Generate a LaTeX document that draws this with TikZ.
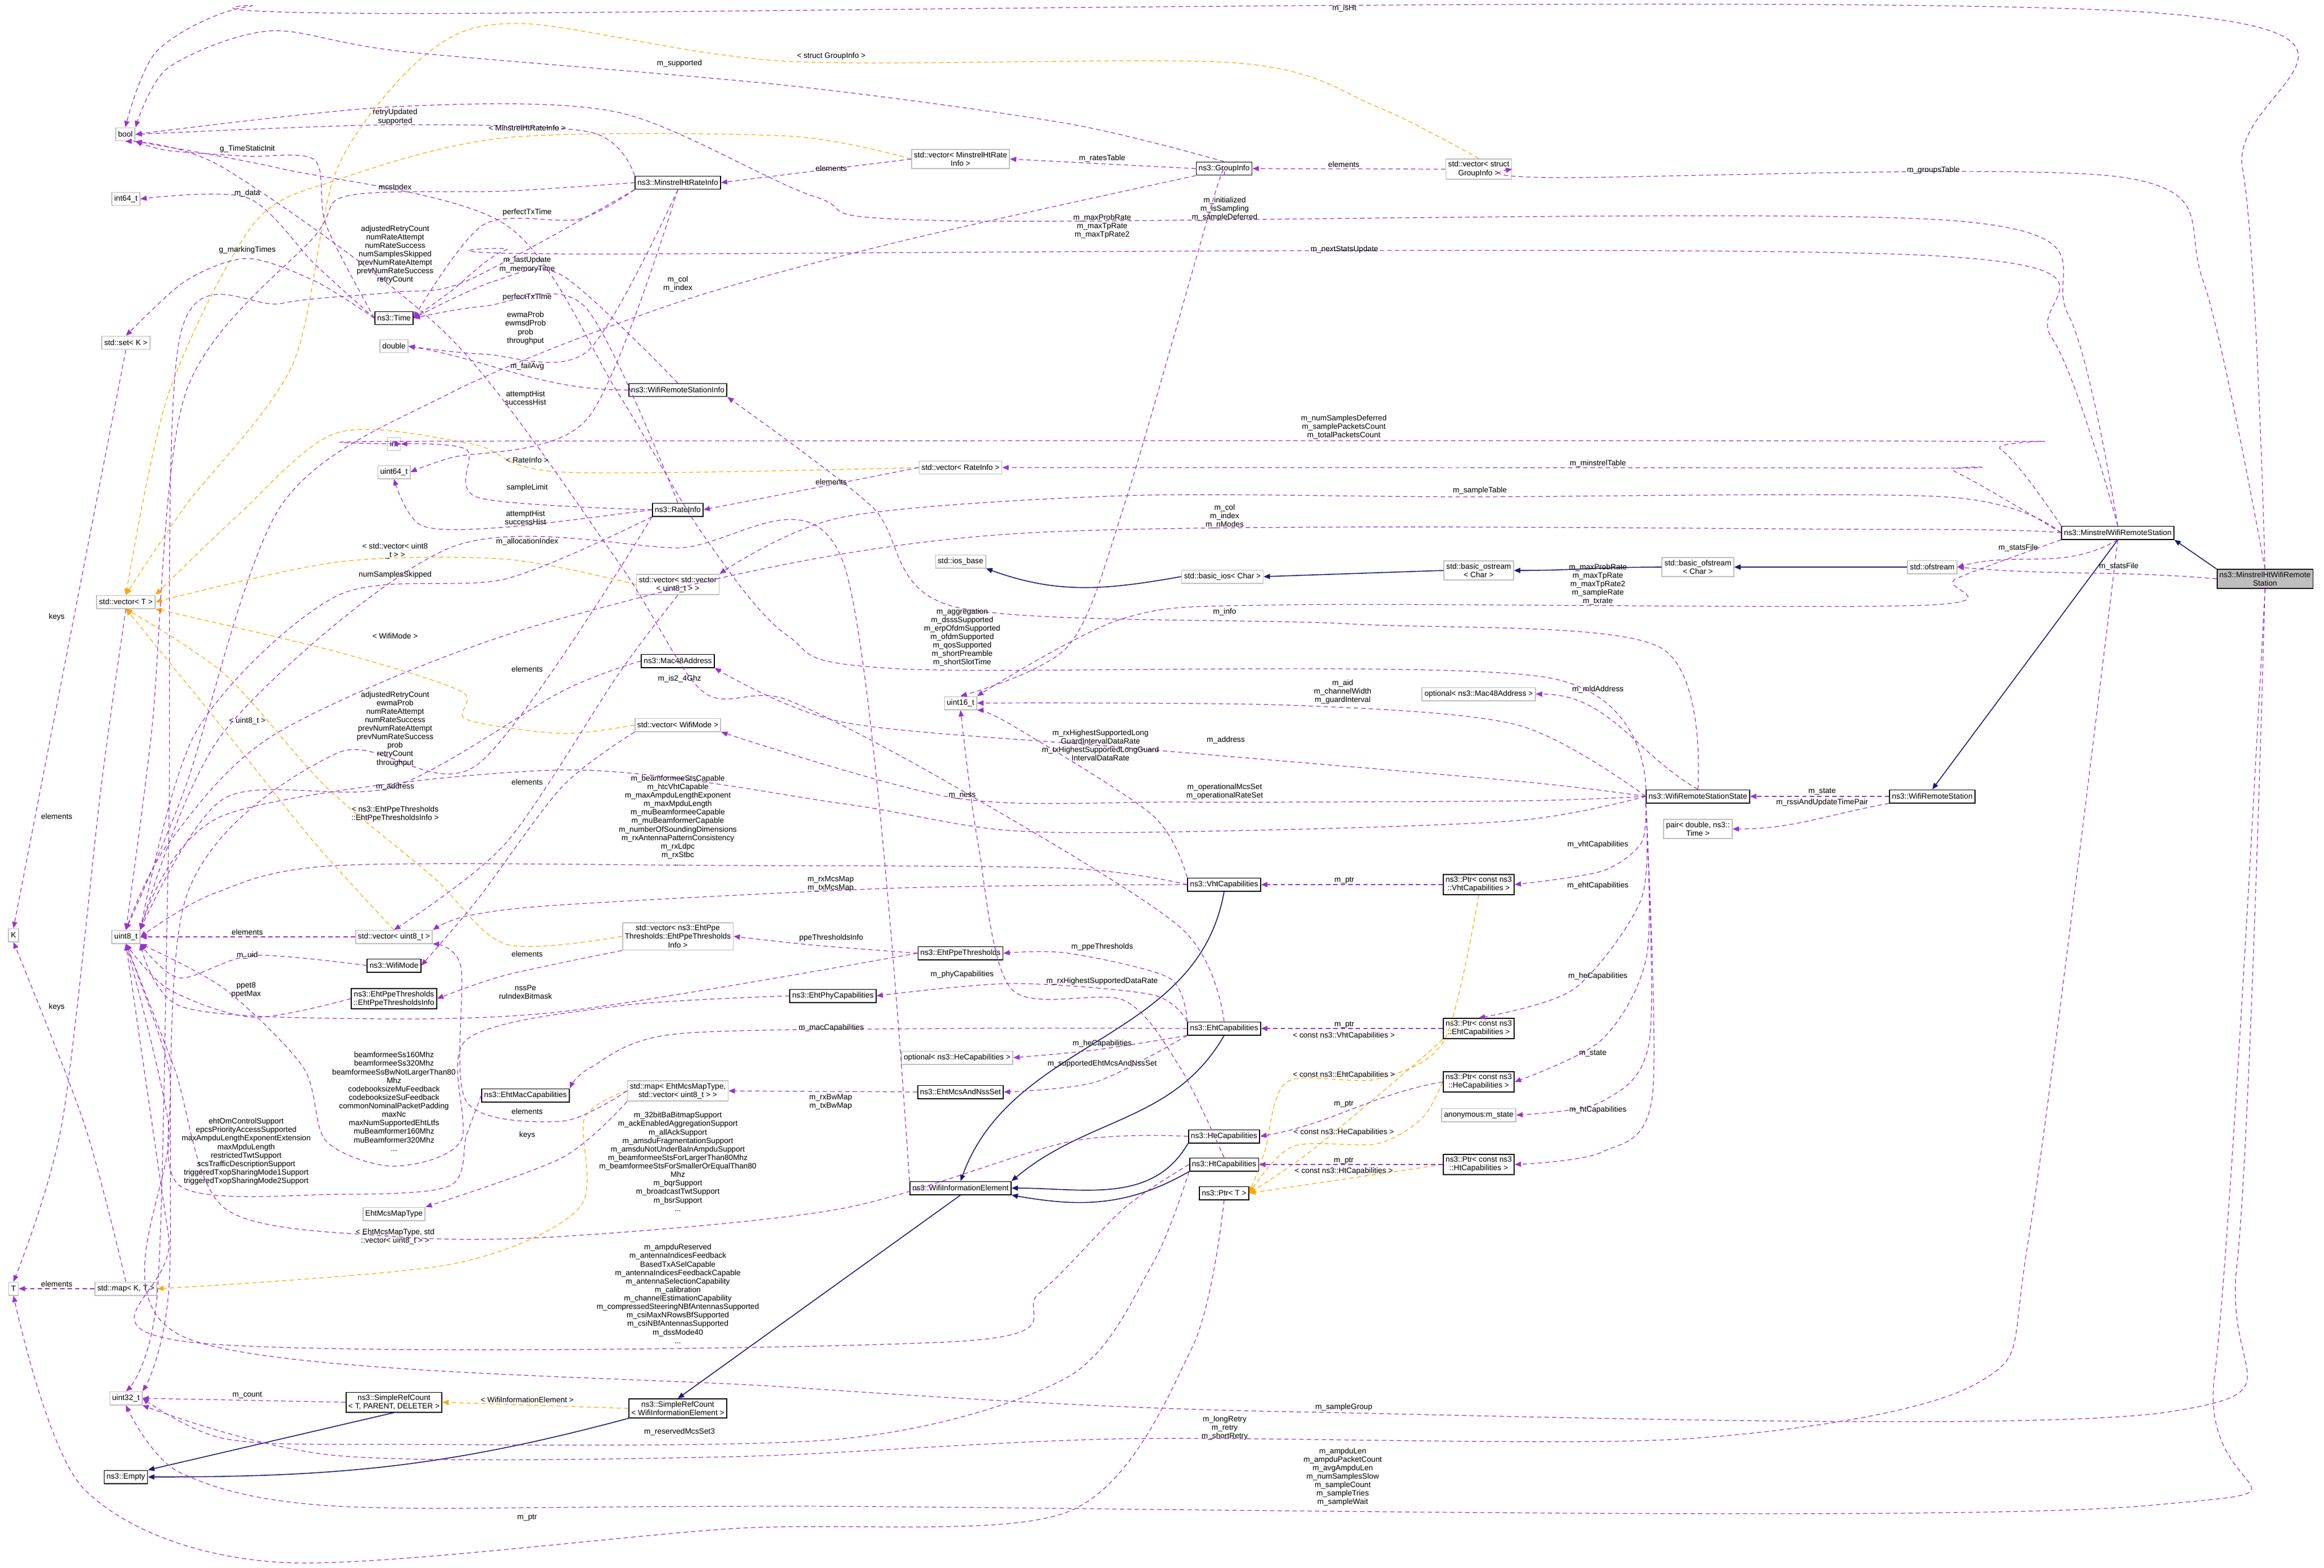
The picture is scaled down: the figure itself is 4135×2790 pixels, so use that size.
\documentclass[tikz,border=0pt]{standalone}
\usepackage{fontspec}
\setmainfont{Liberation Sans}
\usetikzlibrary{arrows.meta,positioning,calc}
\definecolor{usecol}{HTML}{9A32CD}
\definecolor{tplcol}{HTML}{FFA500}
\definecolor{inhcol}{HTML}{191970}
\definecolor{extcol}{HTML}{BFBFBF}

\begin{document}
\begin{tikzpicture}[x=0.01cm,y=-0.01cm,
    font=\fontsize{3.9}{4.3}\selectfont,
    cls/.style={draw=black, line width=0.5pt, fill=white, inner sep=1.2pt, minimum height=6.6pt, align=center},
    ext/.style={draw=extcol, line width=0.5pt, fill=white, inner sep=1.2pt, minimum height=6.6pt, align=center},
    root/.style={cls, fill=extcol},
    lbl/.style={inner sep=0.3pt, align=center},
    use/.style={draw=usecol, line width=0.35pt, dash pattern=on 2.2pt off 1.6pt, -{Triangle[length=3.2pt,width=2.6pt]}},
    tpl/.style={use, draw=tplcol},
    inh/.style={draw=inhcol, line width=0.45pt, -{Triangle[length=3.2pt,width=2.6pt]}}]
    \useasboundingbox (0,0) rectangle (4135,2790);

    % left column
    \node[ext] (bool) at (223,239) {bool};
    \node[ext] (int64) at (224,354) {int64\_t};
    \node[ext] (setK) at (224,610) {std::set< K >};
    \node[ext] (vecT) at (224,1071) {std::vector< T >};
    \node[ext] (K) at (24,1664) {K};
    \node[ext] (uint8) at (224,1667) {uint8\_t};
    \node[ext] (T) at (24,2293) {T};
    \node[ext] (mapKT) at (224,2293) {std::map< K, T >};
    \node[ext] (uint32) at (224,2488) {uint32\_t};
    \node[cls] (empty) at (224,2628) {ns3::Empty};

    % second column
    \node[cls] (time) at (701,566) {ns3::Time};
    \node[ext] (double) at (701,616) {double};
    \node[ext] (int) at (701,790) {int};
    \node[ext] (uint64) at (701,840) {uint64\_t};
    \node[ext] (vecu8) at (701,1667) {std::vector< uint8\_t >};
    \node[cls] (wifimode) at (701,1718) {ns3::WifiMode};
    \node[cls] (ppeinfo) at (701,1777) {ns3::EhtPpeThresholds\\::EhtPpeThresholdsInfo};
    \node[ext] (mcstype) at (701,2160) {EhtMcsMapType};
    \node[cls] (srcT) at (701,2495) {ns3::SimpleRefCount\\< T, PARENT, DELETER >};

    % third column
    \node[cls] (mhtrate) at (1206,325) {ns3::MinstrelHtRateInfo};
    \node[cls] (wrsinfo) at (1206,694) {ns3::WifiRemoteStationInfo};
    \node[cls] (rateinfo) at (1206,907) {ns3::RateInfo};
    \node[ext] (vecvec) at (1206,1040) {std::vector< std::vector\\< uint8\_t > >};
    \node[cls] (mac48) at (1206,1176) {ns3::Mac48Address};
    \node[ext] (vecmode) at (1206,1290) {std::vector< WifiMode >};
    \node[ext] (vecppe) at (1206,1666) {std::vector< ns3::EhtPpe\\Thresholds::EhtPpeThresholds\\Info >};
    \node[cls] (ehtmac) at (935,1949) {ns3::EhtMacCapabilities};
    \node[ext] (mapmcs) at (1206,1941) {std::map< EhtMcsMapType,\\std::vector< uint8\_t > >};
    \node[cls] (srcwie) at (1206,2506) {ns3::SimpleRefCount\\< WifiInformationElement >};

    % fourth column
    \node[ext] (vecmht) at (1709,283) {std::vector< MinstrelHtRate\\Info >};
    \node[ext] (vecrate) at (1709,832) {std::vector< RateInfo >};
    \node[ext] (iosbase) at (1709,999) {std::ios\_base};
    \node[ext] (uint16) at (1709,1251) {uint16\_t};
    \node[cls] (ehtppe) at (1709,1696) {ns3::EhtPpeThresholds};
    \node[cls] (ehtphy) at (1482,1772) {ns3::EhtPhyCapabilities};
    \node[ext] (opthe) at (1703,1882) {optional< ns3::HeCapabilities >};
    \node[cls] (ehtmcs) at (1709,1943) {ns3::EhtMcsAndNssSet};
    \node[cls] (wie) at (1709,2114) {ns3::WifiInformationElement};

    % fifth column
    \node[cls] (groupinfo) at (2178,300) {ns3::GroupInfo};
    \node[ext] (basicios) at (2175,1026) {std::basic\_ios< Char >};
    \node[cls] (vht) at (2178,1574) {ns3::VhtCapabilities};
    \node[cls] (eht) at (2178,1830) {ns3::EhtCapabilities};
    \node[cls] (he) at (2178,2022) {ns3::HeCapabilities};
    \node[cls] (ht) at (2178,2072) {ns3::HtCapabilities};
    \node[cls] (ptrT) at (2178,2123) {ns3::Ptr< T >};

    % sixth column
    \node[ext] (vecgroup) at (2631,301) {std::vector< struct\\GroupInfo >};
    \node[ext] (ostream) at (2631,1015) {std::basic\_ostream\\< Char >};
    \node[ext] (optmac) at (2631,1235) {optional< ns3::Mac48Address >};
    \node[cls] (ptrvht) at (2631,1574) {ns3::Ptr< const ns3\\::VhtCapabilities >};
    \node[cls] (ptreht) at (2631,1830) {ns3::Ptr< const ns3\\::EhtCapabilities >};
    \node[cls] (ptrhe) at (2631,1925) {ns3::Ptr< const ns3\\::HeCapabilities >};
    \node[ext] (anonstate) at (2631,1984) {anonymous:m\_state};
    \node[cls] (ptrht) at (2631,2072) {ns3::Ptr< const ns3\\::HtCapabilities >};

    % right part
    \node[ext] (bofstream) at (3021,1009) {std::basic\_ofstream\\< Char >};
    \node[cls] (wrss) at (3021,1417) {ns3::WifiRemoteStationState};
    \node[ext] (pair) at (3021,1475) {pair< double, ns3::\\Time >};
    \node[ext] (ofs) at (3438,1009) {std::ofstream};
    \node[cls] (wrs) at (3438,1417) {ns3::WifiRemoteStation};
    \node[cls] (mws) at (3768,948) {ns3::MinstrelWifiRemoteStation};
    \node[root] (mht) at (4030,1030) {ns3::MinstrelHtWifiRemote\\Station};

    % inheritance
    \draw[inh] (mht.north west) -- (mws.south east);
    \draw[inh] (mws.south) -- (wrs.north);
    \draw[inh] (ofs) -- (bofstream);
    \draw[inh] (bofstream.west) to[out=180,in=0] (ostream.east);
    \draw[inh] (ostream.west) -- (basicios.east);
    \draw[inh] (basicios.west) to[out=190,in=-20] (iosbase.south east);
    \draw[inh] (vht.south) to[out=-100,in=70] (wie.north);
    \draw[inh] (eht.south) to[out=-120,in=40] (wie.north east);
    \draw[inh] (he.south west) to[out=-120,in=0] (wie.east);
    \draw[inh] (ht.south west) to[out=-150,in=-10] (wie.south east);
    \draw[inh] (wie.south) -- (srcwie.north);
    \draw[inh] (srcwie.south west) to[out=-165,in=0] (empty.east);
    \draw[inh] (srcT.south) -- (empty.north east);

    % template instances
    \draw[tpl] plot[smooth,tension=0.5] coordinates {(vecgroup.north) (2450,190) (2200,112) (1400,109) (930,42) (760,95) (600,300) (520,650) (330,900) (vecT.north)};
    \draw[tpl] plot[smooth,tension=0.5] coordinates {(vecmht.west) (1400,242) (900,245) (600,320) (450,400) (300,700) (vecT.north)};
    \draw[tpl] plot[smooth,tension=0.5] coordinates {(vecrate.west) (1000,840) (840,790) (600,770) (420,920) (vecT.north east)};
    \draw[tpl] plot[smooth,tension=0.5] coordinates {(vecvec.west) (900,995) (600,1000) (vecT.east)};
    \draw[tpl] plot[smooth,tension=0.5] coordinates {(vecmode.west) (1000,1305) (830,1280) (820,1230) (600,1160) (vecT.south east)};
    \draw[tpl] plot[smooth,tension=0.5] coordinates {(vecu8.north) (560,1500) (400,1300) (vecT.south)};
    \draw[tpl] plot[smooth,tension=0.5] coordinates {(vecppe.west) (900,1680) (770,1560) (580,1400) (400,1200) (vecT.south)};
    \draw[tpl] plot[smooth,tension=0.5] coordinates {(mapmcs.west) (1040,1990) (1030,2150) (800,2250) (mapKT.east)};
    \draw[tpl] (srcwie.west) -- (srcT.east);
    \draw[tpl] plot[smooth,tension=0.5] coordinates {(ptrvht.south) (2570,1850) (2450,1920) (2290,1925) (2250,2050) (ptrT.east)};
    \draw[tpl] plot[smooth,tension=0.5] coordinates {(ptreht.south west) (2510,1900) (2330,2050) (ptrT.east)};
    \draw[tpl] plot[smooth,tension=0.5] coordinates {(ptrhe.west) (2530,1990) (2450,2035) (2300,2040) (ptrT.east)};
    \draw[tpl] (ptrht.west) -- (ptrT.east);

    % usage: top lines from the right
    \draw[use] plot[smooth,tension=0.5] coordinates {(mht.north) (3990,300) (3850,24) (700,24) (440,12) (280,90) (bool.north)};
    \draw[use] plot[smooth,tension=0.5] coordinates {(mht.north) (3920,500) (3780,316) (2760,316) (vecgroup.east)};
    \draw[use] plot[smooth,tension=0.5] coordinates {(mws.north) (3680,560) (3480,393) (1700,393) (1450,350) (1100,200) (700,190) (bool.east)};
    \draw[use] plot[smooth,tension=0.5] coordinates {(mws.north) (3650,600) (3440,455) (1020,452) (900,445) (800,520) (time.east)};
    \draw[use] plot[smooth,tension=0.5] coordinates {(mws.north west) (3560,800) (3440,785) (800,785) (int.east)};
    \draw[use] plot[smooth,tension=0.5] coordinates {(mws.west) (3480,840) (3410,833) (vecrate.east)};
    \draw[use] plot[smooth,tension=0.5] coordinates {(mws.west) (3460,884) (2600,884) (2000,882) (1500,920) (vecvec.north east)};
    \draw[use] plot[smooth,tension=0.5] coordinates {(mws.west) (3380,942) (1800,950) (1000,1100) (500,1300) (300,1500) (uint8.north)};
    \draw[use] (mws.south) to[out=-150,in=15] (ofs.east);
    \draw[use] (mht.west) to[out=175,in=-5] (ofs.east);
    \draw[use] plot[smooth,tension=0.5] coordinates {(mws.south west) (3480,1030) (3420,1077) (2300,1076) (2000,1100) (uint16.north east)};

    % usage: lower lines from the right
    \draw[use] plot[smooth,tension=0.5] coordinates {(mht.south) (3980,2250) (3860,2512) (2300,2512) (1400,2468) (330,2380) (300,2000) (uint8.south)};
    \draw[use] plot[smooth,tension=0.5] coordinates {(mws.south) (3610,2200) (3520,2460) (3000,2560) (2000,2560) (1300,2592) (600,2590) (uint32.south east)};
    \draw[use] plot[smooth,tension=0.5] coordinates {(mht.south) (3940,2450) (3820,2679) (1400,2680) (600,2680) (320,2620) (uint32.south)};
    \draw[use] plot[smooth,tension=0.5] coordinates {(ptrT.south) (2120,2400) (1900,2690) (1300,2720) (500,2780) (150,2650) (T.south)};

    % usage: groups and rate info
    \draw[use] plot[smooth,tension=0.5] coordinates {(groupinfo.north) (1900,220) (1400,152) (720,92) (480,55) (300,120) (bool.north east)};
    \draw[use] (groupinfo.west) -- (vecmht.east);
    \draw[use] (vecmht.west) -- (mhtrate.east);
    \draw[use] (vecgroup.west) -- (groupinfo.east);
    \draw[use] plot[smooth,tension=0.5] coordinates {(groupinfo.south west) (1600,430) (1200,540) (800,700) (500,900) (330,1400) (uint8.north)};
    \draw[use] plot[smooth,tension=0.5] coordinates {(groupinfo.south) (2160,350) (2000,900) (1900,1150) (uint16.north)};
    \draw[use] plot[smooth,tension=0.5] coordinates {(mhtrate.north west) (1050,235) (700,222) (bool.east)};
    \draw[use] plot[smooth,tension=0.5] coordinates {(mhtrate.west) (900,340) (620,348) (560,420) (330,700) (270,1300) (uint8.north)};
    \draw[use] plot[smooth,tension=0.5] coordinates {(time.west) (580,400) (560,285) (440,278) (300,268) (bool.south east)};
    \draw[use] plot[smooth,tension=0.5] coordinates {(time.west) (560,470) (440,352) (int64.east)};
    \draw[use] plot[smooth,tension=0.5] coordinates {(time.west) (560,500) (440,460) (330,500) (setK.north)};
    \draw[use] plot[smooth,tension=0.5] coordinates {(mhtrate.south west) (1030,390) (860,400) (time.east)};
    \draw[use] plot[smooth,tension=0.5] coordinates {(mhtrate.south west) (830,500) (700,520) (500,540) (320,600) (300,1500) (280,2300) (uint32.north)};
    \draw[use] plot[smooth,tension=0.5] coordinates {(wrsinfo.north) (1000,490) (880,500) (time.east)};
    \draw[use] plot[smooth,tension=0.5] coordinates {(rateinfo.north) (1040,545) (860,545) (time.east)};
    \draw[use] plot[smooth,tension=0.5] coordinates {(mhtrate.south) (1045,625) (860,630) (double.east)};
    \draw[use] (wrsinfo.west) to[out=180,in=-10] (double.east);
    \draw[use] plot[smooth,tension=0.5] coordinates {(mhtrate.south) (1045,745) (800,815) (uint64.east)};
    \draw[use] plot[smooth,tension=0.5] coordinates {(rateinfo.west) (850,885) (830,800) (int.east)};
    \draw[use] plot[smooth,tension=0.5] coordinates {(rateinfo.west) (900,938) (750,935) (uint64.south)};
    \draw[use] (vecrate.west) -- (rateinfo.east);
    \draw[use] plot[smooth,tension=0.5] coordinates {(rateinfo.south west) (900,1030) (600,1060) (350,1300) (uint8.north east)};
    \draw[use] plot[smooth,tension=0.5] coordinates {(rateinfo.south west) (850,1360) (600,1340) (330,1600) (300,2300) (uint32.north east)};
    \draw[use] plot[smooth,tension=0.5] coordinates {(wie.north west) (1500,1000) (1200,975) (800,975) (400,1300) (uint8.north east)};

    % usage: station state
    \draw[use] plot[smooth,tension=0.5] coordinates {(wrss.north) (2950,1150) (2400,1110) (1700,1080) (1550,900) (wrsinfo.south east)};
    \draw[use] plot[smooth,tension=0.5] coordinates {(wrss.north west) (2750,1205) (1600,1190) (1400,1130) (1250,950) (1100,700) (900,400) (500,300) (bool.south east)};
    \draw[use] plot[smooth,tension=0.5] coordinates {(wrss.west) (2700,1290) (2300,1255) (uint16.east)};
    \draw[use] (wrss.north) to[out=150,in=0] (optmac.east);
    \draw[use] plot[smooth,tension=0.5] coordinates {(wrss.west) (2700,1390) (2000,1330) (1500,1285) (mac48.south east)};
    \draw[use] plot[smooth,tension=0.5] coordinates {(wrss.west) (2700,1425) (2100,1427) (1700,1420) (vecmode.south east)};
    \draw[use] plot[smooth,tension=0.5] coordinates {(wrss.west) (2700,1460) (2200,1478) (1800,1478) (1500,1430) (1000,1370) (400,1450) (uint8.north east)};
    \draw[use] (wrs.west) -- (wrss.east);
    \draw[use] (wrs.south west) to[out=-170,in=0] (pair.east);
    \draw[use] plot[smooth,tension=0.5] coordinates {(wrss.south west) (2920,1500) (2850,1550) (ptrvht.east)};
    \draw[use] plot[smooth,tension=0.5] coordinates {(wrss.south west) (2920,1600) (2800,1760) (ptreht.north)};
    \draw[use] plot[smooth,tension=0.5] coordinates {(wrss.south west) (2930,1700) (2850,1850) (ptrhe.east)};
    \draw[use] plot[smooth,tension=0.5] coordinates {(wrss.south west) (2935,1850) (2850,1960) (anonstate.east)};
    \draw[use] plot[smooth,tension=0.5] coordinates {(wrss.south west) (2940,1950) (2850,2050) (ptrht.east)};

    % usage: capabilities
    \draw[use] (ptrvht.west) -- (vht.east);
    \draw[use] (ptreht.west) -- (eht.east);
    \draw[use] (ptrhe.west) to[out=190,in=10] (he.east);
    \draw[use] (ptrht.west) -- (ht.east);
    \draw[use] plot[smooth,tension=0.5] coordinates {(vht.north west) (2050,1450) (1800,1290) (uint16.south east)};
    \draw[use] plot[smooth,tension=0.5] coordinates {(vht.west) (1900,1545) (1300,1540) (600,1540) (380,1590) (uint8.east)};
    \draw[use] plot[smooth,tension=0.5] coordinates {(vht.west) (1600,1580) (1000,1610) (830,1630) (vecu8.north east)};
    \draw[use] plot[smooth,tension=0.5] coordinates {(ht.north) (2100,1900) (2000,1780) (1800,1760) (1740,1500) (uint16.south)};
    \draw[use] plot[smooth,tension=0.5] coordinates {(eht.north) (2100,1650) (1700,1400) (1400,1245) (1250,1230) (1100,1000) (800,600) (400,300) (bool.south)};
    \draw[use] plot[smooth,tension=0.5] coordinates {(eht.north west) (2080,1740) (1900,1696) (ehtppe.east)};
    \draw[use] plot[smooth,tension=0.5] coordinates {(eht.north west) (2050,1770) (1800,1750) (ehtphy.east)};
    \draw[use] plot[smooth,tension=0.5] coordinates {(eht.west) (1700,1830) (1200,1840) (1050,1900) (ehtmac.north east)};
    \draw[use] plot[smooth,tension=0.5] coordinates {(eht.south west) (1950,1868) (opthe.east)};
    \draw[use] plot[smooth,tension=0.5] coordinates {(eht.south west) (1950,1925) (ehtmcs.east)};
    \draw[use] (ehtmcs.west) -- (mapmcs.east);
    \draw[use] plot[smooth,tension=0.5] coordinates {(mapmcs.west) (1000,1995) (830,1960) (820,1720) (vecu8.south east)};
    \draw[use] plot[smooth,tension=0.5] coordinates {(mapmcs.south west) (1000,2060) (mcstype.north east)};
    \draw[use] plot[smooth,tension=0.5] coordinates {(ehtppe.west) (1450,1682) (vecppe.east)};
    \draw[use] plot[smooth,tension=0.5] coordinates {(vecppe.south west) (900,1735) (ppeinfo.east)};
    \draw[use] plot[smooth,tension=0.5] coordinates {(ehtppe.west) (1000,1800) (600,1812) (320,1790) (uint8.south east)};
    \draw[use] plot[smooth,tension=0.5] coordinates {(ehtphy.west) (1100,1790) (830,1850) (820,2030) (700,2075) (580,2030) (540,1900) (400,1760) (uint8.south east)};
    \draw[use] plot[smooth,tension=0.5] coordinates {(ehtmac.west) (830,2020) (800,2110) (600,2125) (320,2110) (300,1900) (uint8.south)};
    \draw[use] plot[smooth,tension=0.5] coordinates {(he.west) (1900,2032) (1500,2150) (1000,2200) (700,2200) (400,2150) (310,1900) (uint8.south)};
    \draw[use] plot[smooth,tension=0.5] coordinates {(ht.west) (2000,2150) (1850,2300) (1700,2387) (330,2387) (300,2200) (uint8.south)};
    \draw[use] plot[smooth,tension=0.5] coordinates {(ht.south west) (2050,2250) (1900,2450) (1500,2560) (700,2570) (400,2560) (uint32.east)};

    % usage: left side
    \draw[use] (srcT.west) -- (uint32.east);
    \draw[use] (setK.south) -- (K.north);
    \draw[use] plot[smooth,tension=0.5] coordinates {(vecT.south) (180,1400) (110,2000) (T.north)};
    \draw[use] plot[smooth,tension=0.5] coordinates {(mapKT.north) (150,2000) (K.south)};
    \draw[use] (mapKT.west) -- (T.east);
    \draw[use] (vecu8.west) -- (uint8.east);
    \draw[use] plot[smooth,tension=0.5] coordinates {(wifimode.west) (450,1700) (320,1740) (uint8.south east)};
    \draw[use] plot[smooth,tension=0.5] coordinates {(ppeinfo.west) (450,1810) (300,1760) (uint8.south)};
    \draw[use] plot[smooth,tension=0.5] coordinates {(mac48.west) (1000,1230) (700,1400) (400,1420) (uint8.north east)};
    \draw[use] plot[smooth,tension=0.5] coordinates {(vecvec.south) (1100,1200) (900,1500) (vecu8.north)};
    \draw[use] plot[smooth,tension=0.5] coordinates {(vecmode.south west) (1000,1400) (850,1600) (wifimode.east)};

    % labels
    \node[lbl] (l1) at (2392,15) {m\_isHt};
    \node[lbl] (l2) at (3440,303) {m\_groupsTable};
    \node[lbl] (l3) at (2179,372) {m\_initialized\\m\_isSampling\\m\_sampleDeferred};
    \node[lbl] (l4) at (1961,403) {m\_maxProbRate\\m\_maxTpRate\\m\_maxTpRate2};
    \node[lbl] (l5) at (2392,444) {m\_nextStatsUpdate};
    \node[lbl] (l6) at (2391,760) {m\_numSamplesDeferred\\m\_samplePacketsCount\\m\_totalPacketsCount};
    \node[lbl] (l7) at (2843,825) {m\_minstrelTable};
    \node[lbl] (l8) at (2633,873) {m\_sampleTable};
    \node[lbl] (l9) at (2179,919) {m\_col\\m\_index\\m\_nModes};
    \node[lbl] (l10) at (1209,113) {m\_supported};
    \node[lbl] (l11) at (703,208) {retryUpdated\\supported};
    \node[lbl] (l12) at (938,228) {< MinstrelHtRateInfo >};
    \node[lbl] (l13) at (1479,100) {< struct GroupInfo >};
    \node[lbl] (l14) at (440,265) {g\_TimeStaticInit};
    \node[lbl] (l15) at (1961,282) {m\_ratesTable};
    \node[lbl] (l16) at (1479,300) {elements};
    \node[lbl] (l17) at (2391,293) {elements};
    \node[lbl] (l18) at (703,333) {mcsIndex};
    \node[lbl] (l19) at (440,344) {m\_data};
    \node[lbl] (l20) at (938,378) {perfectTxTime};
    \node[lbl] (l21) at (703,453) {adjustedRetryCount\\numRateAttempt\\numRateSuccess\\numSamplesSkipped\\prevNumRateAttempt\\prevNumRateSuccess\\retryCount};
    \node[lbl] (l22) at (440,445) {g\_markingTimes};
    \node[lbl] (l23) at (938,471) {m\_lastUpdate\\m\_memoryTime};
    \node[lbl] (l24) at (1206,505) {m\_col\\m\_index};
    \node[lbl] (l25) at (938,529) {perfectTxTime};
    \node[lbl] (l26) at (935,584) {ewmaProb\\ewmsdProb\\prob\\throughput};
    \node[lbl] (l27) at (938,652) {m\_failAvg};
    \node[lbl] (l28) at (935,708) {attemptHist\\successHist};
    \node[lbl] (l29) at (938,819) {< RateInfo >};
    \node[lbl] (l30) at (938,868) {sampleLimit};
    \node[lbl] (l31) at (935,921) {attemptHist\\successHist};
    \node[lbl] (l32) at (1479,858) {elements};
    \node[lbl] (l33) at (938,964) {m\_allocationIndex};
    \node[lbl] (l34) at (703,980) {< std::vector< uint8\\\_t > >};
    \node[lbl] (l35) at (703,1023) {numSamplesSkipped};
    \node[lbl] (l36) at (703,1132) {< WifiMode >};
    \node[lbl] (l37) at (938,1191) {elements};
    \node[lbl] (l38) at (703,1297) {adjustedRetryCount\\ewmaProb\\numRateAttempt\\numRateSuccess\\prevNumRateAttempt\\prevNumRateSuccess\\prob\\retryCount\\throughput};
    \node[lbl] (l39) at (440,1283) {< uint8\_t >};
    \node[lbl] (l40) at (938,1392) {elements};
    \node[lbl] (l41) at (703,1400) {m\_address};
    \node[lbl] (l42) at (703,1448) {< ns3::EhtPpeThresholds\\::EhtPpeThresholdsInfo >};
    \node[lbl] (l43) at (1206,1460) {m\_beamformeeStsCapable\\m\_htcVhtCapable\\m\_maxAmpduLengthExponent\\m\_maxMpduLength\\m\_muBeamformeeCapable\\m\_muBeamformerCapable\\m\_numberOfSoundingDimensions\\m\_rxAntennaPatternConsistency\\m\_rxLdpc\\m\_rxStbc\\...};
    \node[lbl] (l44) at (101,1098) {keys};
    \node[lbl] (l45) at (101,1453) {elements};
    \node[lbl] (l46) at (101,1792) {keys};
    \node[lbl] (l47) at (1209,1208) {m\_is2\_4Ghz};
    \node[lbl] (l48) at (440,1659) {elements};
    \node[lbl] (l49) at (440,1700) {m\_uid};
    \node[lbl] (l50) at (438,1762) {ppet8\\ppetMax};
    \node[lbl] (l51) at (938,1698) {elements};
    \node[lbl] (l52) at (935,1765) {nssPe\\ruIndexBitmask};
    \node[lbl] (l53) at (701,1960) {beamformeeSs160Mhz\\beamformeeSs320Mhz\\beamformeeSsBwNotLargerThan80\\Mhz\\codebooksizeMuFeedback\\codebooksizeSuFeedback\\commonNominalPacketPadding\\maxNc\\maxNumSupportedEhtLtfs\\muBeamformer160Mhz\\muBeamformer320Mhz\\...};
    \node[lbl] (l54) at (438,2049) {ehtOmControlSupport\\epcsPriorityAccessSupported\\maxAmpduLengthExponentExtension\\maxMpduLength\\restrictedTwtSupport\\scsTrafficDescriptionSupport\\triggeredTxopSharingMode1Support\\triggeredTxopSharingMode2Support};
    \node[lbl] (l55) at (938,1978) {elements};
    \node[lbl] (l56) at (938,2020) {keys};
    \node[lbl] (l57) at (1206,2067) {m\_32bitBaBitmapSupport\\m\_ackEnabledAggregationSupport\\m\_allAckSupport\\m\_amsduFragmentationSupport\\m\_amsduNotUnderBaInAmpduSupport\\m\_beamformeeStsForLargerThan80Mhz\\m\_beamformeeStsForSmallerOrEqualThan80\\Mhz\\m\_bqrSupport\\m\_broadcastTwtSupport\\m\_bsrSupport\\...};
    \node[lbl] (l58) at (703,2200) {< EhtMcsMapType, std\\::vector< uint8\_t > >};
    \node[lbl] (l59) at (1206,2302) {m\_ampduReserved\\m\_antennaIndicesFeedback\\BasedTxASelCapable\\m\_antennaIndicesFeedbackCapable\\m\_antennaSelectionCapability\\m\_calibration\\m\_channelEstimationCapability\\m\_compressedSteeringNBfAntennasSupported\\m\_csiMaxNRowsBfSupported\\m\_csiNBfAntennasSupported\\m\_dssMode40\\...};
    \node[lbl] (l60) at (101,2285) {elements};
    \node[lbl] (l61) at (440,2482) {m\_count};
    \node[lbl] (l62) at (938,2491) {< WifiInformationElement >};
    \node[lbl] (l63) at (1209,2548) {m\_reservedMcsSet3};
    \node[lbl] (l64) at (938,2700) {m\_ptr};
    \node[lbl] (l65) at (1712,1134) {m\_aggregation\\m\_dsssSupported\\m\_erpOfdmSupported\\m\_ofdmSupported\\m\_qosSupported\\m\_shortPreamble\\m\_shortSlotTime};
    \node[lbl] (l66) at (2179,1089) {m\_info};
    \node[lbl] (l67) at (2843,1040) {m\_maxProbRate\\m\_maxTpRate\\m\_maxTpRate2\\m\_sampleRate\\m\_txrate};
    \node[lbl] (l68) at (2389,1231) {m\_aid\\m\_channelWidth\\m\_guardInterval};
    \node[lbl] (l69) at (2843,1227) {m\_mldAddress};
    \node[lbl] (l70) at (1958,1326) {m\_rxHighestSupportedLong\\GuardIntervalDataRate\\m\_txHighestSupportedLongGuard\\IntervalDataRate};
    \node[lbl] (l71) at (2181,1317) {m\_address};
    \node[lbl] (l72) at (2179,1408) {m\_operationalMcsSet\\m\_operationalRateSet};
    \node[lbl] (l73) at (1712,1416) {m\_ness};
    \node[lbl] (l74) at (1478,1573) {m\_rxMcsMap\\m\_txMcsMap};
    \node[lbl] (l75) at (2392,1566) {m\_ptr};
    \node[lbl] (l76) at (1479,1669) {ppeThresholdsInfo};
    \node[lbl] (l77) at (1961,1685) {m\_ppeThresholds};
    \node[lbl] (l78) at (1712,1734) {m\_phyCapabilities};
    \node[lbl] (l79) at (1961,1746) {m\_rxHighestSupportedDataRate};
    \node[lbl] (l80) at (1479,1829) {m\_macCapabilities};
    \node[lbl] (l81) at (2392,1823) {m\_ptr};
    \node[lbl] (l82) at (2391,1843) {< const ns3::VhtCapabilities >};
    \node[lbl] (l83) at (1961,1857) {m\_heCapabilities};
    \node[lbl] (l84) at (1961,1893) {m\_supportedEhtMcsAndNssSet};
    \node[lbl] (l85) at (2391,1913) {< const ns3::EhtCapabilities >};
    \node[lbl] (l86) at (1478,1961) {m\_rxBwMap\\m\_txBwMap};
    \node[lbl] (l87) at (2391,1964) {m\_ptr};
    \node[lbl] (l88) at (2391,2015) {< const ns3::HeCapabilities >};
    \node[lbl] (l89) at (2391,2065) {m\_ptr};
    \node[lbl] (l90) at (2391,2084) {< const ns3::HtCapabilities >};
    \node[lbl] (l91) at (2391,2504) {m\_sampleGroup};
    \node[lbl] (l92) at (2179,2541) {m\_longRetry\\m\_retry\\m\_shortRetry};
    \node[lbl] (l93) at (2389,2628) {m\_ampduLen\\m\_ampduPacketCount\\m\_avgAmpduLen\\m\_numSamplesSlow\\m\_sampleCount\\m\_sampleTries\\m\_sampleWait};
    \node[lbl] (l94) at (3591,975) {m\_statsFile};
    \node[lbl] (l95) at (3770,1008) {m\_statsFile};
    \node[lbl] (l96) at (3242,1408) {m\_state};
    \node[lbl] (l97) at (3242,1428) {m\_rssiAndUpdateTimePair};
    \node[lbl] (l98) at (2843,1503) {m\_vhtCapabilities};
    \node[lbl] (l99) at (2843,1576) {m\_ehtCapabilities};
    \node[lbl] (l100) at (2843,1737) {m\_heCapabilities};
    \node[lbl] (l101) at (2834,1874) {m\_state};
    \node[lbl] (l102) at (2843,1975) {m\_htCapabilities};
\end{tikzpicture}
\end{document}
